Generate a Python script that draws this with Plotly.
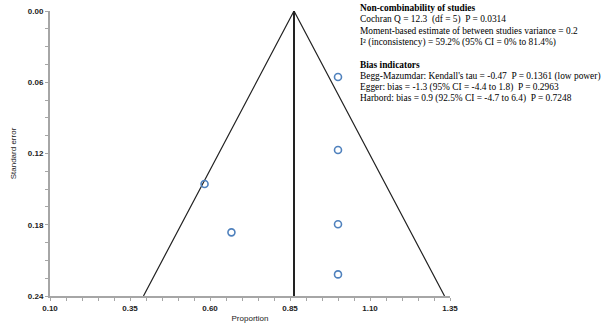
import plotly.graph_objects as go

# Data
proportion = [1.00, 1.00, 1.00, 1.00, 0.583, 0.667]
std_error = [0.0556, 0.117, 0.1796, 0.2218, 0.1457, 0.1864]
pooled = 0.8625
se_max = 0.24
x_ticks = [0.10, 0.35, 0.60, 0.85, 1.10, 1.35]
y_ticks = [0.00, 0.06, 0.12, 0.18, 0.24]
stats_lines = [
    ("<b>Non-combinability of studies</b>", 8),
    ("Cochran Q = 12.3  (df = 5)  P = 0.0314", 19.5),
    ("Moment-based estimate of between studies variance = 0.2", 31),
    ("I² (inconsistency) = 59.2% (95% CI = 0% to 81.4%)", 42.5),
    ("<b>Bias indicators</b>", 64.5),
    ("Begg-Mazumdar: Kendall's tau = -0.47  P = 0.1361 (low power)", 76),
    ("Egger: bias = -1.3 (95% CI = -4.4 to 1.8)  P = 0.2963", 87.5),
    ("Harbord: bias = 0.9 (92.5% CI = -4.7 to 6.4)  P = 0.7248", 99),
]

W, H = 605, 323
L, T = 50, 11
R = W - 450
B = H - 296
plot_h = H - T - B
plot_w = W - L - R

fig = go.Figure()
# Funnel triangle
fig.add_trace(go.Scatter(
    x=[pooled - 1.96 * se_max, pooled, pooled + 1.96 * se_max],
    y=[se_max, 0, se_max],
    mode="lines", line=dict(color="#222222", width=1.2),
    hoverinfo="skip", showlegend=False))
# Pooled vertical line
fig.add_trace(go.Scatter(
    x=[pooled, pooled], y=[0, se_max],
    mode="lines", line=dict(color="#222222", width=2),
    hoverinfo="skip", showlegend=False))
# Studies
fig.add_trace(go.Scatter(
    x=proportion, y=std_error, mode="markers",
    marker=dict(symbol="circle-open", size=7, color="#4f81bd",
                line=dict(width=1.6, color="#4f81bd")),
    showlegend=False))

tickfont = dict(family="Liberation Sans, Arial", size=8, color="#222222")
fig.update_xaxes(
    range=[0.10, 1.35], tickvals=x_ticks,
    ticktext=["<b>%.2f</b>" % v for v in x_ticks],
    showgrid=False, zeroline=False, showline=True, linecolor="#a6a6a6",
    linewidth=2, ticks="outside", ticklen=3, tickcolor="#a6a6a6",
    minor=dict(dtick=0.05, ticks="outside", ticklen=3, tickcolor="#a6a6a6"),
    tickfont=tickfont, automargin=False,
    title=dict(text="Proportion", font=dict(family="Liberation Sans, Arial", size=8, color="#222222"), standoff=4),
)
fig.update_yaxes(
    range=[se_max, 0], tickvals=y_ticks,
    ticktext=["<b>%.2f</b>" % v for v in y_ticks],
    showgrid=False, zeroline=False, showline=True, linecolor="#a6a6a6",
    linewidth=2, ticks="outside", ticklen=3, tickcolor="#a6a6a6",
    minor=dict(dtick=0.015, ticks="outside", ticklen=3, tickcolor="#a6a6a6"),
    tickfont=tickfont, automargin=False,
    title=dict(text="Standard error", font=dict(family="Liberation Sans, Arial", size=8, color="#222222"), standoff=10),
)

for text, ypx in stats_lines:
    fig.add_annotation(
        xref="paper", yref="paper",
        x=(358 - L) / plot_w, y=(296 - ypx) / plot_h,
        xanchor="left", yanchor="middle", showarrow=False,
        text=text, font=dict(family="Liberation Serif, Times New Roman", size=9.4, color="#000000"),
    )

fig.update_layout(
    width=W, height=H, margin=dict(l=L, r=R, t=T, b=B),
    plot_bgcolor="white", paper_bgcolor="white",
)
fig.write_html(
    "out.html",
    config={"displayModeBar": False},
    post_script="document.body.style.margin='0';document.body.style.padding='0';document.body.style.overflow='hidden';",
)
